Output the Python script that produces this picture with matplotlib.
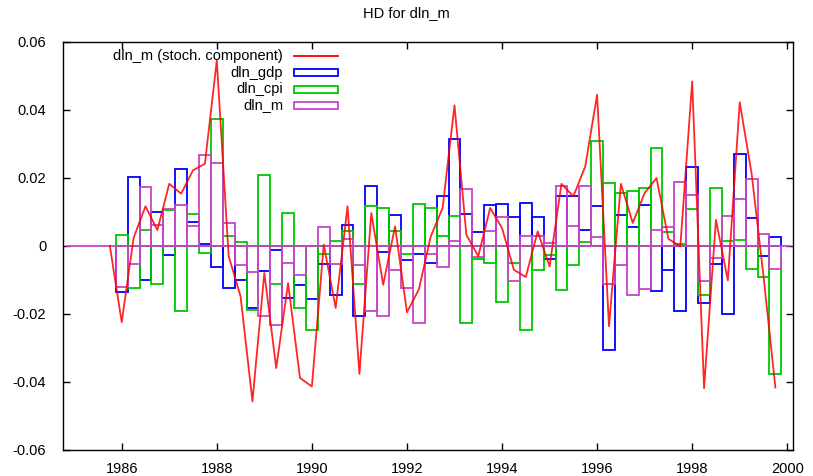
import matplotlib
matplotlib.use("Agg")
import matplotlib.pyplot as plt
from matplotlib.lines import Line2D
from matplotlib.patches import Rectangle
import numpy as np

plt.rcParams['font.family'] = ['Liberation Sans', 'DejaVu Sans']

# quarterly dates, 1986Q1 .. 1999Q4
dates = np.arange(1986.0, 2000.0, 0.25)

# contributions
dln_gdp = [-0.0136, 0.0203, -0.0100, 0.0098, -0.0028, 0.0227, 0.0069, 0.0005,
           -0.0062, -0.0123, -0.0100, -0.0182, -0.0075, -0.0014, -0.0154, -0.0116,
           -0.0158, -0.0054, -0.0144, 0.0062, -0.0208, 0.0177, -0.0018, 0.0090,
           -0.0042, -0.0025, -0.0050, 0.0145, 0.0314, 0.0094, 0.0040, 0.0120,
           0.0124, 0.0083, 0.0126, 0.0083, -0.0040, 0.0145, 0.0145, 0.0047,
           0.0116, -0.0306, 0.0090, 0.0054, 0.0120, -0.0132, -0.0072, -0.0191,
           0.0231, -0.0169, -0.0053, -0.0201, 0.0271, 0.0082, -0.0029, 0.0027]
dln_cpi = [0.0032, -0.0125, 0.0047, -0.0112, 0.0106, -0.0191, 0.0094, -0.0022,
           0.0372, 0.0029, 0.0012, -0.0190, 0.0209, -0.0112, 0.0097, -0.0182,
           -0.0249, -0.0025, 0.0015, 0.0044, -0.0112, 0.0116, 0.0112, 0.0043,
           -0.0025, 0.0123, 0.0112, 0.0028, 0.0087, -0.0227, -0.0038, -0.0050,
           -0.0166, -0.0050, -0.0249, -0.0072, -0.0028, -0.0129, -0.0058, 0.0012,
           0.0307, 0.0184, 0.0155, 0.0162, 0.0170, 0.0288, 0.0040, 0.0004,
           0.0108, -0.0144, 0.0170, 0.0015, 0.0018, -0.0069, -0.0093, -0.0376]
dln_m = [-0.0120, -0.0054, 0.0174, 0.0061, 0.0108, 0.0120, 0.0057, 0.0267,
         0.0242, 0.0066, -0.0058, -0.0078, -0.0206, -0.0234, -0.0050, -0.0086,
         -0.0002, 0.0054, -0.0054, 0.0020, -0.0058, -0.0191, -0.0208, -0.0072,
         -0.0123, -0.0227, -0.0025, -0.0062, 0.0014, 0.0166, -0.0033, 0.0044,
         0.0083, -0.0105, 0.0028, 0.0028, 0.0008, 0.0175, 0.0058, 0.0177,
         0.0025, -0.0112, -0.0058, -0.0144, -0.0128, 0.0047, 0.0054, 0.0188,
         0.0149, -0.0104, -0.0036, 0.0086, 0.0137, 0.0195, 0.0033, -0.0069]

# stochastic component (line), starts one quarter earlier at zero
line_dates = np.arange(1985.75, 2000.0, 0.25)
dln_m_stoch = [0.0, -0.0225, 0.0023, 0.0116, 0.0046, 0.0182, 0.0153, 0.0222, 0.0241,
               0.0545, -0.0031, -0.0149, -0.0458, -0.0080, -0.0360, -0.0110, -0.0389,
               -0.0414, 0.0003, -0.0183, 0.0116, -0.0377, 0.0096, -0.0115, 0.0057,
               -0.0196, -0.0129, 0.0027, 0.0111, 0.0413, 0.0032, -0.0031, 0.0111,
               0.0052, -0.0071, -0.0092, 0.0042, -0.0061, 0.0182, 0.0145, 0.0233,
               0.0444, -0.0237, 0.0182, 0.0067, 0.0155, 0.0199, 0.0020, -0.0002,
               0.0483, -0.0419, 0.0076, -0.0102, 0.0422, 0.0212, -0.0089, -0.0417]

RED = '#ff0000'
BLUE = '#0000ff'
GREEN = '#00c800'
MAGENTA = '#c844c8'

fig = plt.figure(figsize=(8.13, 4.76), dpi=100)
ax = fig.add_axes([63/813, (476-449.7)/476, 730.3/813, 408/476])

# zero line
ax.axhline(0, xmin=0.005, xmax=0.995, color=MAGENTA, lw=1.3, zorder=2)

for vals, col in [(dln_gdp, BLUE), (dln_cpi, GREEN), (dln_m, MAGENTA)]:
    ax.bar(dates, vals, width=0.25, fill=False, edgecolor=col, linewidth=1.3, zorder=3)

ax.plot(line_dates, dln_m_stoch, color=RED, lw=1.3, alpha=0.85, zorder=4)

ax.set_xlim(1984.765, 2000.127)
ax.set_ylim(-0.06, 0.06)
ax.set_xticks(np.arange(1986, 2001, 2))
yt = np.arange(-0.06, 0.061, 0.02)
ax.set_yticks(yt)
ax.set_yticklabels(['%g' % round(v, 2) for v in yt])
ax.tick_params(direction='in', top=True, right=True, length=5, width=1,
               labelsize=10.5, pad=9)
ax.tick_params(axis='y', pad=12)
for s in ax.spines.values():
    s.set_linewidth(1.0)

fig.text(0.5, 1 - 13/476, 'HD for dln_m', ha='center', va='center', fontsize=10.5)

# legend, gnuplot style: text right-aligned, sample to the right
def axx(px):
    return (px - 63) / 730.3

def axy(py):
    return (449.7 - py) / 408

leg_labels = ['dln_m (stoch. component)', 'dln_gdp', 'dln_cpi', 'dln_m']
leg_colors = [RED, BLUE, GREEN, MAGENTA]
leg_rows = [56, 72.5, 89, 105.5]
for i, (lab, col, py) in enumerate(zip(leg_labels, leg_colors, leg_rows)):
    ax.text(axx(283), axy(py), lab, ha='right', va='center', fontsize=10.5,
            transform=ax.transAxes)
    if i == 0:
        ax.add_line(Line2D([axx(294), axx(338)], [axy(py), axy(py)], color=col,
                           lw=1.3, transform=ax.transAxes))
    else:
        ax.add_patch(Rectangle((axx(294), axy(py + 3.5)), axx(338) - axx(294),
                               axy(py - 3.5) - axy(py + 3.5), fill=False,
                               edgecolor=col, lw=1.3, transform=ax.transAxes))

fig.savefig('out.png', dpi=100)
